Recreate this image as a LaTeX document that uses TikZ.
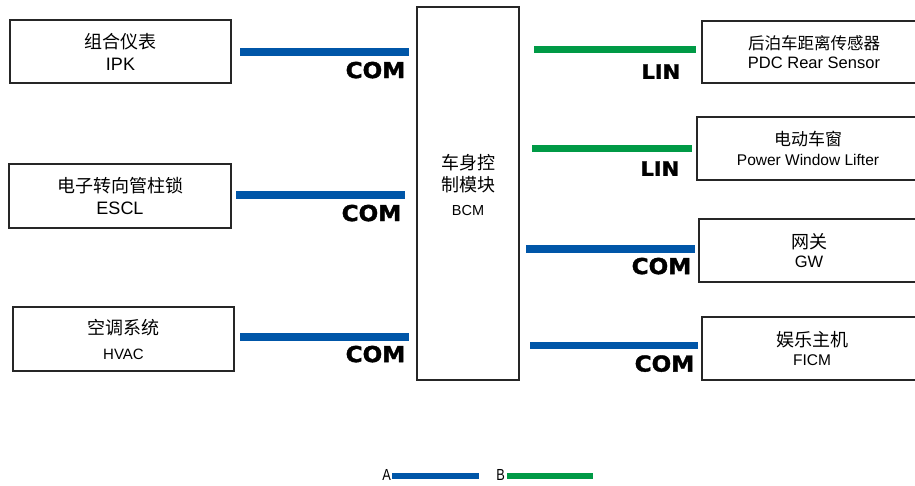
\documentclass[tikz,border=0pt]{standalone}
\usepackage{fontspec}
\setmainfont{Liberation Sans}
\newfontfamily\cjk{Noto Sans CJK SC}
\newfontfamily\busfont[FakeBold=1.5, FakeStretch=1.05]{DejaVu Sans Bold}
\newfontfamily\keyfont[FakeStretch=0.8]{Liberation Sans}
\definecolor{combus}{RGB}{0,86,168}
\definecolor{linbus}{RGB}{0,154,70}

\begin{document}
\begin{tikzpicture}
    [x=1pt, y=-1pt,
    ecu/.style={draw=black!85, line width=1.5pt, inner sep=0pt, align=center},
    fs/.style={font=\fontsize{#1}{22}\selectfont},
    com/.style={draw=combus, line width=7.5pt},
    lin/.style={draw=linbus, line width=7.5pt},
    buslabel/.style={anchor=north east, inner sep=0pt, font=\busfont\fontsize{22}{22}\selectfont}]
    \useasboundingbox (0,0) rectangle (915,485);
    \clip (0,0) rectangle (915,485);

        %% left side
    \node[ecu, fs=18, minimum width=221, minimum height=63] (IPK) at (120.5,51.5) {{\cjk 组合仪表}\\IPK};
    \node[ecu, fs=18, minimum width=222, minimum height=64] (ESCL) at (120,196) {{\cjk 电子转向管柱锁}\\ESCL};
    \node[ecu, fs=18, minimum width=221, minimum height=64] (HVAC) at (123.5,339) {{\cjk 空调系统}\\[3pt]{\fontsize{15}{15}\selectfont HVAC}};

        %% body control module
    \node[ecu, minimum width=102, minimum height=373] (BCM) at (468,193.5) {};
    \node[fs=18, align=center, inner sep=0pt] (BCMname) at (468,185) {{\cjk 车身控}\\{\cjk 制模块}\\[2pt]{\fontsize{14.5}{14.5}\selectfont BCM}};

        %% right side
    \node[ecu, fs=16.5, minimum width=224, minimum height=62] (PDC) at (814,52) {{\cjk 后泊车距离传感器}\\[-3pt]PDC Rear Sensor};
    \node[ecu, fs=17, minimum width=222, minimum height=63] (PWL) at (808,148.5) {{\cjk 电动车窗}\\[-2pt]{\fontsize{15.5}{16}\selectfont Power Window Lifter}};
    \node[ecu, fs=18, minimum width=220, minimum height=63] (GW) at (809,250.5) {{\cjk 网关}\\[-3pt]{\fontsize{16.5}{16}\selectfont GW}};
    \node[ecu, fs=18, minimum width=220, minimum height=63] (FICM) at (812,348.5) {{\cjk 娱乐主机}\\[-3pt]{\fontsize{15.5}{16}\selectfont FICM}};

        %% bus segments
    \coordinate (IPKa) at (240,52);   \coordinate (IPKb) at (409,52);
    \coordinate (ESCLa) at (236,195); \coordinate (ESCLb) at (405,195);
    \coordinate (HVACa) at (240,337); \coordinate (HVACb) at (409,337);
    \coordinate (PDCa) at (534,49.5); \coordinate (PDCb) at (696,49.5);
    \coordinate (PWLa) at (532,148.5); \coordinate (PWLb) at (692,148.5);
    \coordinate (GWa) at (526,249);   \coordinate (GWb) at (695,249);
    \coordinate (FICMa) at (530,345.5); \coordinate (FICMb) at (698,345.5);

    \draw[com] (IPKa) -- (IPKb) node[buslabel, yshift=-6pt] {COM};
    \draw[com] (ESCLa) -- (ESCLb) node[buslabel, yshift=-6pt] {COM};
    \draw[com] (HVACa) -- (HVACb) node[buslabel, yshift=-5pt] {COM};
    \draw[lin] (PDCa) -- (PDCb) node[buslabel, xshift=-12pt, yshift=-11pt, font=\busfont\fontsize{20}{20}\selectfont] {LIN};
    \draw[lin] (PWLa) -- (PWLb) node[buslabel, xshift=-9pt, yshift=-9pt, font=\busfont\fontsize{20}{20}\selectfont] {LIN};
    \draw[com] (GWa) -- (GWb) node[buslabel, yshift=-5pt] {COM};
    \draw[com] (FICMa) -- (FICMb) node[buslabel, yshift=-6pt] {COM};

        %% key
    \node[inner sep=0pt, anchor=east, font=\keyfont\fontsize{16}{16}\selectfont] (keyA) at (391,475) {A};
    \coordinate (keyAend) at (479,476);
    \node[inner sep=0pt, anchor=east, font=\keyfont\fontsize{16}{16}\selectfont] (keyB) at (505,475) {B};
    \coordinate (keyBend) at (593,476);
    \draw[combus, line width=6pt] (keyA.east |- keyAend) ++(1,0) -- (keyAend);
    \draw[linbus, line width=6pt] (keyB.east |- keyBend) ++(2,0) -- (keyBend);
\end{tikzpicture}
\end{document}
